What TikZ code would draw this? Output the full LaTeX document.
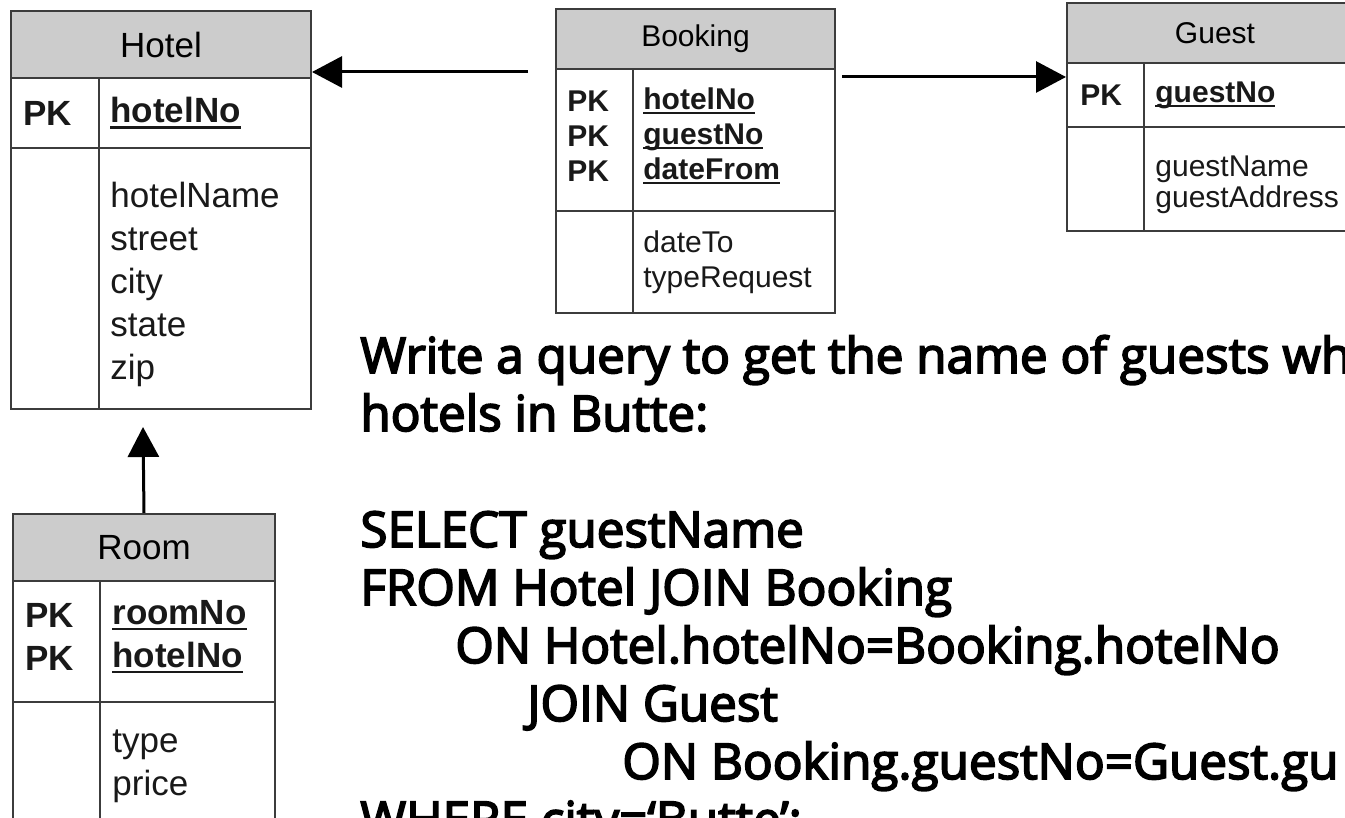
\documentclass[tikz,border=0pt]{standalone}
\usepackage{xcolor}
\usepackage{tikz}
\usepackage{fontspec}
\usetikzlibrary{arrows.meta,positioning}
\newfontfamily\tablefont{Liberation Sans}
\newfontfamily\slidefont{Open Sans}[FakeBold=3.5]
\definecolor{headgray}{HTML}{CCCCCC}
\definecolor{linegray}{HTML}{3C3C3C}
\newcommand{\pkey}[1]{\setbox0\hbox{#1}\rlap{\rule[-0.17em]{\wd0}{0.07em}}\box0}
\pgfdeclarelayer{nodelayer}
\pgfdeclarelayer{edgelayer}
\pgfsetlayers{edgelayer,nodelayer,main}
\tikzstyle{table head}=[fill=headgray, draw=linegray, line width=1pt, shape=rectangle, anchor=north west, inner sep=0pt]
\tikzstyle{table cell}=[fill=white, draw=linegray, line width=1pt, shape=rectangle, anchor=north west, inner sep=0pt]
\tikzstyle{field}=[inner sep=0pt, align=left, text=black!90]
\tikzstyle{big font}=[font=\tablefont\fontsize{17.5}{21.5}\selectfont]
\tikzstyle{small font}=[font=\tablefont\fontsize{15}{17.5}\selectfont]
\tikzstyle{tight font}=[font=\tablefont\fontsize{15}{15.5}\selectfont]
\tikzstyle{query}=[inner sep=0pt, align=left, anchor=base west, font=\slidefont\fontsize{24.7}{29}\selectfont]
\tikzstyle{fk edge}=[draw=black, line width=1.5pt, -{Triangle[length=15pt, width=15.5pt]}]

\begin{document}
\begin{tikzpicture}[x=0.5pt, y=-0.5pt]
	\useasboundingbox (0,0) rectangle (1345,818);
	\begin{pgfonlayer}{nodelayer}
	\begin{scope}
		\clip (0,0) rectangle (1345,818);
		% Hotel
		\node [style=table head, style=big font, minimum width=150pt, minimum height=33.5pt] (0) at (10,10) {Hotel};
		\node [style=table cell, minimum width=44pt, minimum height=35pt] (1) at (10,77) {};
		\node [style=table cell, minimum width=106pt, minimum height=35pt] (2) at (98,77) {};
		\node [style=table cell, minimum width=44pt, minimum height=130.5pt] (3) at (10,147) {};
		\node [style=table cell, minimum width=106pt, minimum height=130.5pt] (4) at (98,147) {};
		\node [style=field, style=big font, right=6.5pt of 1.west] (5) {\bfseries PK};
		\node [style=field, style=big font, right=6pt of 2.west] (6) {\bfseries\pkey{hotelNo}};
		\node [style=field, style=big font, right=6pt of 4.west, yshift=-3pt] (7) {hotelName\\street\\city\\state\\zip};
		% Booking
		\node [style=table head, style=small font, minimum width=139.5pt, minimum height=30pt] (8) at (555,8) {Booking};
		\node [style=table cell, minimum width=38.5pt, minimum height=71pt] (9) at (555,68) {};
		\node [style=table cell, minimum width=101pt, minimum height=71pt] (10) at (632,68) {};
		\node [style=table cell, minimum width=38.5pt, minimum height=51pt] (11) at (555,210) {};
		\node [style=table cell, minimum width=101pt, minimum height=51pt] (12) at (632,210) {};
		\node [style=field, style=small font, right=6pt of 9.west, yshift=2pt] (13) {\bfseries PK\\\bfseries PK\\\bfseries PK};
		\node [style=field, style=small font, right=5.5pt of 10.west, yshift=2pt] (14) {\bfseries\pkey{hotelNo}\\\bfseries\pkey{guestNo}\\\bfseries\pkey{dateFrom}};
		\node [style=field, style=small font, right=5.5pt of 12.west] (15) {dateTo\\typeRequest};
		% Guest
		\node [style=table head, style=small font, minimum width=148pt, minimum height=30pt] (16) at (1066,2) {Guest};
		\node [style=table cell, minimum width=38.5pt, minimum height=32pt] (17) at (1066,62) {};
		\node [style=table cell, minimum width=109.5pt, minimum height=32pt] (18) at (1143,62) {};
		\node [style=table cell, minimum width=38.5pt, minimum height=52pt] (19) at (1066,126) {};
		\node [style=table cell, minimum width=109.5pt, minimum height=52pt] (20) at (1143,126) {};
		\node [style=field, style=small font, right=7pt of 17.west] (21) {\bfseries PK};
		\node [style=field, style=small font, right=6pt of 18.west] (22) {\bfseries\pkey{guestNo}};
		\node [style=field, style=tight font, right=6pt of 20.west, yshift=-3pt] (23) {guestName\\guestAddress};
		% Room
		\node [style=table head, style=big font, minimum width=131pt, minimum height=33.5pt] (24) at (12,513) {Room};
		\node [style=table cell, minimum width=43.5pt, minimum height=60.5pt] (25) at (12,580) {};
		\node [style=table cell, minimum width=87.5pt, minimum height=60.5pt] (26) at (99,580) {};
		\node [style=table cell, minimum width=43.5pt, minimum height=64pt] (27) at (12,701) {};
		\node [style=table cell, minimum width=87.5pt, minimum height=64pt] (28) at (99,701) {};
		\node [style=field, style=big font, right=6.5pt of 25.west, yshift=2.5pt] (29) {\bfseries PK\\\bfseries PK};
		\node [style=field, style=big font, right=6.5pt of 26.west, yshift=2.5pt] (30) {\bfseries\pkey{roomNo}\\\bfseries\pkey{hotelNo}};
		\node [style=field, style=big font, right=6.5pt of 28.west] (31) {type\\price};
		% question and answer (base is the last line)
		\node [style=query] (32) at (360,837) {Write a query to get the name of guests wh\\hotels in Butte:\\[29pt]SELECT guestName\\FROM Hotel JOIN Booking\\\hspace*{47.5pt}ON Hotel.hotelNo=Booking.hotelNo\\\hspace*{83.5pt}JOIN Guest\\\hspace*{131pt}ON Booking.guestNo=Guest.gu\\WHERE city=‘Butte’;};
	\end{scope}
	\end{pgfonlayer}
	\begin{pgfonlayer}{edgelayer}
		\coordinate (33) at (528,72);
		\coordinate (34) at (842,77);
		\coordinate (35) at (143,427);
		\draw [style=fk edge] (33) to (33 -| 0.east);
		\draw [style=fk edge] (34) to (34 -| 17.west);
		\draw [style=fk edge] (24.north) to (35);
	\end{pgfonlayer}
\end{tikzpicture}
\end{document}
